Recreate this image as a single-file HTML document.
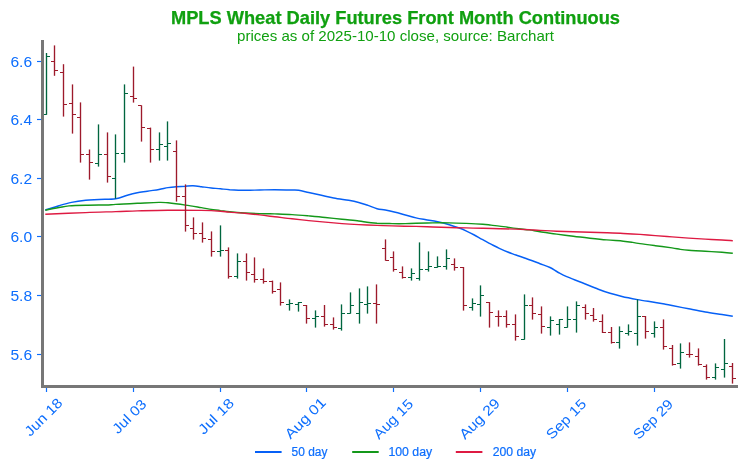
<!DOCTYPE html><html><head><meta charset="utf-8"><title>MPLS Wheat Daily Futures Front Month Continuous</title>
<style>html,body{margin:0;padding:0;background:#fff}svg{display:block}text{font-family:"Liberation Sans",sans-serif}</style></head><body>
<svg width="746" height="474" viewBox="0 0 746 474">
<rect width="746" height="474" fill="#fff"/>
<text x="395.5" y="23.8" text-anchor="middle" font-size="17.7" font-weight="bold" fill="#10a010" stroke="#10a010" stroke-width="0.25" textLength="449" lengthAdjust="spacingAndGlyphs">MPLS Wheat Daily Futures Front Month Continuous</text>
<text x="395.5" y="40.5" text-anchor="middle" font-size="14.3" fill="#10a010" textLength="317" lengthAdjust="spacingAndGlyphs">prices as of 2025-10-10 close, source: Barchart</text>
<path d="M45.3 210.0C47.6 209.3 54.6 207.0 59.0 205.7C63.4 204.4 67.0 203.3 71.5 202.4C76.0 201.5 81.1 200.8 85.7 200.3C90.3 199.8 94.0 199.8 99.0 199.5C104.0 199.2 111.0 199.4 115.7 198.7C120.4 198.0 123.7 196.3 127.3 195.3C130.9 194.3 134.0 193.5 137.3 192.8C140.6 192.1 143.7 191.8 147.3 191.2C150.9 190.6 155.6 190.1 159.0 189.5C162.4 188.9 165.1 188.1 168.0 187.6C170.9 187.1 173.4 186.9 176.3 186.7C179.2 186.5 182.7 186.3 185.5 186.2C188.3 186.0 190.4 185.7 193.0 185.8C195.6 185.9 198.2 186.3 201.3 186.7C204.4 187.1 208.1 187.7 211.3 188.0C214.5 188.3 217.4 188.5 220.5 188.8C223.6 189.1 225.7 189.4 229.7 189.7C233.7 189.9 239.7 190.2 244.7 190.3C249.7 190.4 254.7 190.1 259.7 190.0C264.7 189.9 269.3 189.7 274.7 189.7C280.1 189.7 288.0 189.9 292.0 190.0C296.0 190.1 295.9 189.9 298.7 190.3C301.5 190.7 305.1 191.7 308.7 192.5C312.3 193.3 316.1 194.1 320.3 195.0C324.5 195.9 329.0 197.1 333.7 198.0C338.4 198.9 344.5 199.6 348.7 200.3C352.9 201.1 355.6 201.7 358.7 202.5C361.8 203.3 363.9 204.0 367.0 205.0C370.1 206.0 373.9 207.9 377.0 208.7C380.1 209.5 382.2 209.4 385.3 210.0C388.4 210.6 392.0 211.4 395.3 212.2C398.6 213.0 401.9 214.1 405.3 215.0C408.8 215.9 412.6 217.1 416.0 217.9C419.4 218.7 422.4 219.1 426.0 219.7C429.6 220.3 433.8 220.9 437.7 221.7C441.6 222.5 445.7 223.6 449.3 224.7C452.9 225.8 456.5 227.0 459.3 228.0C462.1 229.0 463.5 229.6 466.0 230.8C468.5 232.0 471.5 233.5 474.3 235.0C477.1 236.5 479.9 238.2 482.7 239.7C485.5 241.2 488.2 242.8 491.0 244.2C493.8 245.6 496.5 247.0 499.3 248.3C502.1 249.6 504.9 250.9 507.7 252.0C510.5 253.1 512.4 253.7 516.0 255.0C519.6 256.3 525.3 258.2 529.3 259.7C533.3 261.1 536.5 262.4 540.0 263.7C543.5 265.0 547.0 266.0 550.0 267.5C553.0 269.0 555.5 271.0 558.3 272.5C561.1 274.0 562.8 275.0 566.7 276.7C570.6 278.4 576.4 280.4 581.7 282.5C587.0 284.6 593.6 287.4 598.3 289.2C603.0 291.0 606.0 292.1 610.0 293.3C614.0 294.5 617.4 295.4 622.0 296.5C626.6 297.6 632.0 298.6 637.5 299.6C643.0 300.6 650.7 301.7 655.3 302.5C659.9 303.3 662.5 303.7 665.3 304.2C668.1 304.7 668.1 304.7 672.0 305.5C675.9 306.3 683.2 307.7 688.7 308.8C694.2 309.9 699.8 311.1 705.3 312.0C710.8 312.9 717.4 313.8 722.0 314.5C726.6 315.2 731.0 315.9 732.8 316.2" fill="none" stroke="#0660f6" stroke-width="1.45" stroke-linejoin="round"/>
<path d="M45.3 210.3C47.6 209.8 55.0 208.2 59.0 207.5C63.0 206.8 64.5 206.3 69.0 205.9C73.5 205.5 79.6 205.4 85.7 205.3C91.8 205.1 100.7 205.1 105.7 205.0C110.7 204.8 110.4 204.7 115.7 204.4C121.0 204.2 130.1 203.7 137.3 203.3C144.5 203.0 153.9 202.5 159.0 202.4C164.1 202.3 163.6 202.4 168.0 202.8C172.4 203.3 179.9 204.3 185.5 205.1C191.1 205.8 197.0 206.9 201.3 207.6C205.6 208.3 208.1 208.9 211.3 209.4C214.5 209.9 217.4 210.1 220.5 210.6C223.6 211.0 225.7 211.4 229.7 211.8C233.7 212.2 239.7 212.7 244.7 213.0C249.7 213.3 254.7 213.5 259.7 213.6C264.7 213.8 269.3 213.8 274.7 213.9C280.1 214.1 286.3 214.3 292.0 214.6C297.7 214.9 303.1 215.4 308.7 215.9C314.2 216.4 319.8 216.9 325.3 217.5C330.9 218.1 336.4 218.7 342.0 219.3C347.6 219.9 354.5 220.5 358.7 221.0C362.9 221.5 363.9 221.9 367.0 222.3C370.1 222.7 372.8 222.9 377.0 223.2C381.2 223.4 387.3 223.5 392.0 223.6C396.7 223.7 401.3 223.7 405.3 223.6C409.3 223.5 411.4 223.4 416.0 223.3C420.6 223.2 427.1 223.0 432.7 222.9C438.2 222.8 443.8 222.8 449.3 222.9C454.9 223.0 460.4 223.2 466.0 223.4C471.6 223.6 478.5 223.9 482.7 224.2C486.9 224.5 488.2 224.8 491.0 225.1C493.8 225.4 496.5 225.8 499.3 226.1C502.1 226.5 504.9 226.8 507.7 227.2C510.5 227.6 512.4 228.0 516.0 228.4C519.6 228.9 525.3 229.4 529.3 229.9C533.3 230.5 535.4 231.1 540.0 231.8C544.6 232.5 551.2 233.3 556.7 234.1C562.2 234.8 567.8 235.6 573.3 236.3C578.8 237.0 584.4 237.6 590.0 238.2C595.6 238.8 601.2 239.4 606.7 239.9C612.2 240.4 619.1 240.8 623.3 241.2C627.5 241.6 628.9 241.8 631.7 242.2C634.5 242.7 636.1 243.0 640.0 243.6C643.9 244.2 650.0 245.0 655.3 245.7C660.6 246.4 667.8 247.3 672.0 247.9C676.2 248.5 677.5 249.0 680.3 249.4C683.1 249.8 684.5 250.0 688.7 250.3C692.9 250.6 699.8 250.9 705.3 251.3C710.8 251.6 717.4 252.0 722.0 252.3C726.6 252.6 731.0 253.1 732.8 253.3" fill="none" stroke="#14981a" stroke-width="1.45" stroke-linejoin="round"/>
<path d="M45.3 214.2C52.0 213.9 74.0 213.0 85.7 212.6C97.4 212.1 107.1 211.9 115.7 211.6C124.3 211.4 128.6 211.1 137.3 210.9C146.0 210.7 157.3 210.4 168.0 210.3C178.7 210.2 192.6 210.3 201.3 210.4C210.1 210.6 215.8 210.9 220.5 211.2C225.2 211.5 225.7 211.8 229.7 212.1C233.7 212.5 239.7 212.9 244.7 213.3C249.7 213.8 254.7 214.3 259.7 214.9C264.7 215.4 269.3 216.1 274.7 216.8C280.1 217.4 286.3 218.2 292.0 218.8C297.7 219.4 303.1 220.0 308.7 220.6C314.2 221.1 319.8 221.6 325.3 222.1C330.9 222.7 336.4 223.2 342.0 223.6C347.6 224.0 352.9 224.3 358.7 224.6C364.5 224.9 371.4 225.2 377.0 225.4C382.6 225.6 385.5 225.7 392.0 225.9C398.5 226.1 409.2 226.3 416.0 226.4C422.8 226.6 427.1 226.8 432.7 227.0C438.2 227.2 443.8 227.3 449.3 227.5C454.9 227.7 460.4 227.8 466.0 227.9C471.6 228.1 477.1 228.2 482.7 228.3C488.2 228.4 493.8 228.5 499.3 228.7C504.9 228.8 511.0 228.9 516.0 229.1C521.0 229.3 525.3 229.5 529.3 229.7C533.3 229.9 535.4 230.2 540.0 230.4C544.6 230.6 551.2 230.9 556.7 231.2C562.2 231.4 567.8 231.5 573.3 231.7C578.8 231.9 584.4 232.0 590.0 232.2C595.6 232.4 601.2 232.6 606.7 232.8C612.2 233.0 617.8 233.2 623.3 233.5C628.8 233.7 634.7 234.0 640.0 234.4C645.3 234.8 650.0 235.2 655.3 235.6C660.6 236.0 666.4 236.5 672.0 236.9C677.6 237.3 683.2 237.7 688.7 238.1C694.2 238.4 699.8 238.8 705.3 239.1C710.8 239.4 717.4 239.7 722.0 240.0C726.6 240.2 731.0 240.6 732.8 240.7" fill="none" stroke="#de1a42" stroke-width="1.45" stroke-linejoin="round"/>
<path d="M46.5 53.0V114.8" stroke="#00663f" stroke-width="1.35" fill="none"/><path d="M43.0 114.5H46.5M46.5 56.5H50.0" stroke="#00663f" stroke-width="1.15" fill="none"/>
<path d="M54.5 45.4V75.8" stroke="#9d1a2b" stroke-width="1.35" fill="none"/><path d="M51.0 61.5H54.5M54.5 70.5H58.0" stroke="#9d1a2b" stroke-width="1.15" fill="none"/>
<path d="M63.5 64.2V116.6" stroke="#9d1a2b" stroke-width="1.35" fill="none"/><path d="M60.0 72.5H63.5M63.5 104.5H67.0" stroke="#9d1a2b" stroke-width="1.15" fill="none"/>
<path d="M72.5 84.4V133.6" stroke="#9d1a2b" stroke-width="1.35" fill="none"/><path d="M69.0 103.5H72.5M72.5 114.5H76.0" stroke="#9d1a2b" stroke-width="1.15" fill="none"/>
<path d="M80.5 102.4V162.6" stroke="#9d1a2b" stroke-width="1.35" fill="none"/><path d="M77.0 117.5H80.5M80.5 154.5H84.0" stroke="#9d1a2b" stroke-width="1.15" fill="none"/>
<path d="M89.5 149.5V179.6" stroke="#9d1a2b" stroke-width="1.35" fill="none"/><path d="M86.0 154.5H89.5M89.5 162.5H93.0" stroke="#9d1a2b" stroke-width="1.15" fill="none"/>
<path d="M98.5 124.4V166.6" stroke="#00663f" stroke-width="1.35" fill="none"/><path d="M95.0 163.5H98.5M98.5 154.5H102.0" stroke="#00663f" stroke-width="1.15" fill="none"/>
<path d="M107.5 132.4V182.6" stroke="#9d1a2b" stroke-width="1.35" fill="none"/><path d="M104.0 154.5H107.5M107.5 176.5H111.0" stroke="#9d1a2b" stroke-width="1.15" fill="none"/>
<path d="M115.5 134.4V198.6" stroke="#00663f" stroke-width="1.35" fill="none"/><path d="M112.0 178.5H115.5M115.5 153.5H119.0" stroke="#00663f" stroke-width="1.15" fill="none"/>
<path d="M124.5 84.4V162.6" stroke="#00663f" stroke-width="1.35" fill="none"/><path d="M121.0 153.5H124.5M124.5 93.5H128.0" stroke="#00663f" stroke-width="1.15" fill="none"/>
<path d="M133.5 66.6V102.6" stroke="#9d1a2b" stroke-width="1.35" fill="none"/><path d="M130.0 96.5H133.5M133.5 98.5H137.0" stroke="#9d1a2b" stroke-width="1.15" fill="none"/>
<path d="M141.5 105.4V141.6" stroke="#9d1a2b" stroke-width="1.35" fill="none"/><path d="M138.0 105.5H141.5M141.5 127.5H145.0" stroke="#9d1a2b" stroke-width="1.15" fill="none"/>
<path d="M150.5 127.6V162.6" stroke="#9d1a2b" stroke-width="1.35" fill="none"/><path d="M147.0 128.5H150.5M150.5 149.5H154.0" stroke="#9d1a2b" stroke-width="1.15" fill="none"/>
<path d="M159.5 132.4V160.6" stroke="#00663f" stroke-width="1.35" fill="none"/><path d="M156.0 149.5H159.5M159.5 144.5H163.0" stroke="#00663f" stroke-width="1.15" fill="none"/>
<path d="M167.5 121.4V160.6" stroke="#00663f" stroke-width="1.35" fill="none"/><path d="M164.0 146.5H167.5M167.5 143.5H171.0" stroke="#00663f" stroke-width="1.15" fill="none"/>
<path d="M176.5 140.4V201.6" stroke="#9d1a2b" stroke-width="1.35" fill="none"/><path d="M173.0 151.5H176.5M176.5 196.5H180.0" stroke="#9d1a2b" stroke-width="1.15" fill="none"/>
<path d="M185.5 184.4V231.6" stroke="#9d1a2b" stroke-width="1.35" fill="none"/><path d="M182.0 196.5H185.5M185.5 225.5H189.0" stroke="#9d1a2b" stroke-width="1.15" fill="none"/>
<path d="M193.5 217.4V239.6" stroke="#9d1a2b" stroke-width="1.35" fill="none"/><path d="M190.0 228.5H193.5M193.5 233.5H197.0" stroke="#9d1a2b" stroke-width="1.15" fill="none"/>
<path d="M202.5 222.4V242.6" stroke="#9d1a2b" stroke-width="1.35" fill="none"/><path d="M199.0 233.5H202.5M202.5 238.5H206.0" stroke="#9d1a2b" stroke-width="1.15" fill="none"/>
<path d="M211.5 231.4V256.6" stroke="#9d1a2b" stroke-width="1.35" fill="none"/><path d="M208.0 239.5H211.5M211.5 251.5H215.0" stroke="#9d1a2b" stroke-width="1.15" fill="none"/>
<path d="M220.5 225.4V256.6" stroke="#00663f" stroke-width="1.35" fill="none"/><path d="M217.0 251.5H220.5M220.5 250.5H224.0" stroke="#00663f" stroke-width="1.15" fill="none"/>
<path d="M228.5 247.4V278.6" stroke="#9d1a2b" stroke-width="1.35" fill="none"/><path d="M225.0 250.5H228.5M228.5 276.5H232.0" stroke="#9d1a2b" stroke-width="1.15" fill="none"/>
<path d="M237.5 253.4V278.6" stroke="#00663f" stroke-width="1.35" fill="none"/><path d="M234.0 276.5H237.5M237.5 261.5H241.0" stroke="#00663f" stroke-width="1.15" fill="none"/>
<path d="M246.5 253.4V280.6" stroke="#9d1a2b" stroke-width="1.35" fill="none"/><path d="M243.0 261.5H246.5M246.5 272.5H250.0" stroke="#9d1a2b" stroke-width="1.15" fill="none"/>
<path d="M254.5 257.4V282.6" stroke="#9d1a2b" stroke-width="1.35" fill="none"/><path d="M251.0 274.5H254.5M254.5 279.5H258.0" stroke="#9d1a2b" stroke-width="1.15" fill="none"/>
<path d="M263.5 268.4V283.6" stroke="#9d1a2b" stroke-width="1.35" fill="none"/><path d="M260.0 279.5H263.5M263.5 281.5H267.0" stroke="#9d1a2b" stroke-width="1.15" fill="none"/>
<path d="M272.5 280.6V293.6" stroke="#9d1a2b" stroke-width="1.35" fill="none"/><path d="M269.0 281.5H272.5M272.5 291.5H276.0" stroke="#9d1a2b" stroke-width="1.15" fill="none"/>
<path d="M280.5 282.4V305.6" stroke="#9d1a2b" stroke-width="1.35" fill="none"/><path d="M277.0 289.5H280.5M280.5 302.5H284.0" stroke="#9d1a2b" stroke-width="1.15" fill="none"/>
<path d="M289.5 299.4V310.6" stroke="#00663f" stroke-width="1.35" fill="none"/><path d="M286.0 304.5H289.5M289.5 303.5H293.0" stroke="#00663f" stroke-width="1.15" fill="none"/>
<path d="M298.5 302.0V311.6" stroke="#00663f" stroke-width="1.35" fill="none"/><path d="M295.0 304.5H298.5M298.5 302.5H302.0" stroke="#00663f" stroke-width="1.15" fill="none"/>
<path d="M306.5 305.0V323.6" stroke="#9d1a2b" stroke-width="1.35" fill="none"/><path d="M303.0 305.5H306.5M306.5 318.5H310.0" stroke="#9d1a2b" stroke-width="1.15" fill="none"/>
<path d="M315.5 310.4V327.6" stroke="#00663f" stroke-width="1.35" fill="none"/><path d="M312.0 318.5H315.5M315.5 316.5H319.0" stroke="#00663f" stroke-width="1.15" fill="none"/>
<path d="M324.5 305.0V326.6" stroke="#9d1a2b" stroke-width="1.35" fill="none"/><path d="M321.0 316.5H324.5M324.5 324.5H328.0" stroke="#9d1a2b" stroke-width="1.15" fill="none"/>
<path d="M333.5 317.4V329.6" stroke="#9d1a2b" stroke-width="1.35" fill="none"/><path d="M330.0 324.5H333.5M333.5 327.5H337.0" stroke="#9d1a2b" stroke-width="1.15" fill="none"/>
<path d="M341.5 304.4V330.6" stroke="#00663f" stroke-width="1.35" fill="none"/><path d="M338.0 328.5H341.5M341.5 313.5H345.0" stroke="#00663f" stroke-width="1.15" fill="none"/>
<path d="M350.5 292.4V313.6" stroke="#00663f" stroke-width="1.35" fill="none"/><path d="M347.0 313.5H350.5M350.5 305.5H354.0" stroke="#00663f" stroke-width="1.15" fill="none"/>
<path d="M359.5 288.4V323.6" stroke="#00663f" stroke-width="1.35" fill="none"/><path d="M356.0 313.5H359.5M359.5 302.5H363.0" stroke="#00663f" stroke-width="1.15" fill="none"/>
<path d="M367.5 286.4V313.6" stroke="#00663f" stroke-width="1.35" fill="none"/><path d="M364.0 304.5H367.5M367.5 303.5H371.0" stroke="#00663f" stroke-width="1.15" fill="none"/>
<path d="M376.5 284.4V323.6" stroke="#9d1a2b" stroke-width="1.35" fill="none"/><path d="M373.0 303.5H376.5M376.5 304.5H380.0" stroke="#9d1a2b" stroke-width="1.15" fill="none"/>
<path d="M385.5 239.4V260.6" stroke="#9d1a2b" stroke-width="1.35" fill="none"/><path d="M382.0 248.5H385.5M385.5 260.5H389.0" stroke="#9d1a2b" stroke-width="1.15" fill="none"/>
<path d="M393.5 251.4V271.6" stroke="#9d1a2b" stroke-width="1.35" fill="none"/><path d="M390.0 257.5H393.5M393.5 269.5H397.0" stroke="#9d1a2b" stroke-width="1.15" fill="none"/>
<path d="M402.5 266.4V278.6" stroke="#9d1a2b" stroke-width="1.35" fill="none"/><path d="M399.0 272.5H402.5M402.5 277.5H406.0" stroke="#9d1a2b" stroke-width="1.15" fill="none"/>
<path d="M411.5 268.4V280.6" stroke="#00663f" stroke-width="1.35" fill="none"/><path d="M408.0 277.5H411.5M411.5 273.5H415.0" stroke="#00663f" stroke-width="1.15" fill="none"/>
<path d="M419.5 242.4V280.6" stroke="#00663f" stroke-width="1.35" fill="none"/><path d="M416.0 278.5H419.5M419.5 269.5H423.0" stroke="#00663f" stroke-width="1.15" fill="none"/>
<path d="M428.5 251.4V271.6" stroke="#00663f" stroke-width="1.35" fill="none"/><path d="M425.0 269.5H428.5M428.5 266.5H432.0" stroke="#00663f" stroke-width="1.15" fill="none"/>
<path d="M437.5 256.4V267.6" stroke="#00663f" stroke-width="1.35" fill="none"/><path d="M434.0 267.5H437.5M437.5 266.5H441.0" stroke="#00663f" stroke-width="1.15" fill="none"/>
<path d="M446.5 249.4V269.6" stroke="#00663f" stroke-width="1.35" fill="none"/><path d="M443.0 266.5H446.5M446.5 258.5H450.0" stroke="#00663f" stroke-width="1.15" fill="none"/>
<path d="M454.5 258.4V270.6" stroke="#9d1a2b" stroke-width="1.35" fill="none"/><path d="M451.0 264.5H454.5M454.5 267.5H458.0" stroke="#9d1a2b" stroke-width="1.15" fill="none"/>
<path d="M463.5 267.0V310.6" stroke="#9d1a2b" stroke-width="1.35" fill="none"/><path d="M460.0 267.5H463.5M463.5 305.5H467.0" stroke="#9d1a2b" stroke-width="1.15" fill="none"/>
<path d="M472.5 298.4V310.6" stroke="#00663f" stroke-width="1.35" fill="none"/><path d="M469.0 307.5H472.5M472.5 303.5H476.0" stroke="#00663f" stroke-width="1.15" fill="none"/>
<path d="M480.5 285.4V316.6" stroke="#00663f" stroke-width="1.35" fill="none"/><path d="M477.0 304.5H480.5M480.5 295.5H484.0" stroke="#00663f" stroke-width="1.15" fill="none"/>
<path d="M489.5 302.0V327.6" stroke="#9d1a2b" stroke-width="1.35" fill="none"/><path d="M486.0 302.5H489.5M489.5 312.5H493.0" stroke="#9d1a2b" stroke-width="1.15" fill="none"/>
<path d="M498.5 310.4V326.6" stroke="#9d1a2b" stroke-width="1.35" fill="none"/><path d="M495.0 316.5H498.5M498.5 316.5H502.0" stroke="#9d1a2b" stroke-width="1.15" fill="none"/>
<path d="M506.5 310.4V327.6" stroke="#9d1a2b" stroke-width="1.35" fill="none"/><path d="M503.0 316.5H506.5M506.5 324.5H510.0" stroke="#9d1a2b" stroke-width="1.15" fill="none"/>
<path d="M515.5 314.4V340.6" stroke="#9d1a2b" stroke-width="1.35" fill="none"/><path d="M512.0 324.5H515.5M515.5 336.5H519.0" stroke="#9d1a2b" stroke-width="1.15" fill="none"/>
<path d="M524.5 294.4V339.6" stroke="#00663f" stroke-width="1.35" fill="none"/><path d="M521.0 339.5H524.5M524.5 305.5H528.0" stroke="#00663f" stroke-width="1.15" fill="none"/>
<path d="M532.5 297.4V319.6" stroke="#9d1a2b" stroke-width="1.35" fill="none"/><path d="M529.0 305.5H532.5M532.5 313.5H536.0" stroke="#9d1a2b" stroke-width="1.15" fill="none"/>
<path d="M541.5 306.4V333.6" stroke="#9d1a2b" stroke-width="1.35" fill="none"/><path d="M538.0 314.5H541.5M541.5 326.5H545.0" stroke="#9d1a2b" stroke-width="1.15" fill="none"/>
<path d="M550.5 316.4V335.6" stroke="#00663f" stroke-width="1.35" fill="none"/><path d="M547.0 327.5H550.5M550.5 320.5H554.0" stroke="#00663f" stroke-width="1.15" fill="none"/>
<path d="M559.5 319.0V334.6" stroke="#00663f" stroke-width="1.35" fill="none"/><path d="M556.0 324.5H559.5M559.5 319.5H563.0" stroke="#00663f" stroke-width="1.15" fill="none"/>
<path d="M567.5 306.4V327.6" stroke="#00663f" stroke-width="1.35" fill="none"/><path d="M564.0 327.5H567.5M567.5 319.5H571.0" stroke="#00663f" stroke-width="1.15" fill="none"/>
<path d="M576.5 301.4V332.6" stroke="#00663f" stroke-width="1.35" fill="none"/><path d="M573.0 319.5H576.5M576.5 305.5H580.0" stroke="#00663f" stroke-width="1.15" fill="none"/>
<path d="M585.5 304.4V319.6" stroke="#9d1a2b" stroke-width="1.35" fill="none"/><path d="M582.0 307.5H585.5M585.5 313.5H589.0" stroke="#9d1a2b" stroke-width="1.15" fill="none"/>
<path d="M593.5 308.0V321.6" stroke="#9d1a2b" stroke-width="1.35" fill="none"/><path d="M590.0 315.5H593.5M593.5 319.5H597.0" stroke="#9d1a2b" stroke-width="1.15" fill="none"/>
<path d="M602.5 314.4V333.0" stroke="#9d1a2b" stroke-width="1.35" fill="none"/><path d="M599.0 321.5H602.5M602.5 332.5H606.0" stroke="#9d1a2b" stroke-width="1.15" fill="none"/>
<path d="M611.5 327.0V343.6" stroke="#9d1a2b" stroke-width="1.35" fill="none"/><path d="M608.0 332.5H611.5M611.5 342.5H615.0" stroke="#9d1a2b" stroke-width="1.15" fill="none"/>
<path d="M619.5 326.4V348.6" stroke="#00663f" stroke-width="1.35" fill="none"/><path d="M616.0 342.5H619.5M619.5 331.5H623.0" stroke="#00663f" stroke-width="1.15" fill="none"/>
<path d="M628.5 324.4V335.6" stroke="#00663f" stroke-width="1.35" fill="none"/><path d="M625.0 333.5H628.5M628.5 331.5H632.0" stroke="#00663f" stroke-width="1.15" fill="none"/>
<path d="M637.5 299.4V345.6" stroke="#00663f" stroke-width="1.35" fill="none"/><path d="M634.0 333.5H637.5M637.5 316.5H641.0" stroke="#00663f" stroke-width="1.15" fill="none"/>
<path d="M645.5 316.0V338.6" stroke="#9d1a2b" stroke-width="1.35" fill="none"/><path d="M642.0 316.5H645.5M645.5 331.5H649.0" stroke="#9d1a2b" stroke-width="1.15" fill="none"/>
<path d="M654.5 321.4V337.6" stroke="#00663f" stroke-width="1.35" fill="none"/><path d="M651.0 333.5H654.5M654.5 327.5H658.0" stroke="#00663f" stroke-width="1.15" fill="none"/>
<path d="M663.5 319.4V349.6" stroke="#9d1a2b" stroke-width="1.35" fill="none"/><path d="M660.0 327.5H663.5M663.5 346.5H667.0" stroke="#9d1a2b" stroke-width="1.15" fill="none"/>
<path d="M672.5 345.0V365.6" stroke="#9d1a2b" stroke-width="1.35" fill="none"/><path d="M669.0 348.5H672.5M672.5 364.5H676.0" stroke="#9d1a2b" stroke-width="1.15" fill="none"/>
<path d="M680.5 343.4V368.6" stroke="#00663f" stroke-width="1.35" fill="none"/><path d="M677.0 363.5H680.5M680.5 352.5H684.0" stroke="#00663f" stroke-width="1.15" fill="none"/>
<path d="M689.5 342.4V357.6" stroke="#9d1a2b" stroke-width="1.35" fill="none"/><path d="M686.0 354.5H689.5M689.5 354.5H693.0" stroke="#9d1a2b" stroke-width="1.15" fill="none"/>
<path d="M698.5 348.4V365.6" stroke="#9d1a2b" stroke-width="1.35" fill="none"/><path d="M695.0 356.5H698.5M698.5 364.5H702.0" stroke="#9d1a2b" stroke-width="1.15" fill="none"/>
<path d="M706.5 364.4V379.6" stroke="#9d1a2b" stroke-width="1.35" fill="none"/><path d="M703.0 366.5H706.5M706.5 377.5H710.0" stroke="#9d1a2b" stroke-width="1.15" fill="none"/>
<path d="M715.5 363.4V379.6" stroke="#00663f" stroke-width="1.35" fill="none"/><path d="M712.0 377.5H715.5M715.5 367.5H719.0" stroke="#00663f" stroke-width="1.15" fill="none"/>
<path d="M724.5 339.0V377.6" stroke="#00663f" stroke-width="1.35" fill="none"/><path d="M721.0 369.5H724.5M724.5 363.5H728.0" stroke="#00663f" stroke-width="1.15" fill="none"/>
<path d="M732.5 363.0V383.6" stroke="#9d1a2b" stroke-width="1.35" fill="none"/><path d="M729.0 366.5H732.5M732.5 378.5H736.0" stroke="#9d1a2b" stroke-width="1.15" fill="none"/>
<rect x="41" y="40" width="3" height="348" fill="#777777"/>
<rect x="41" y="385" width="697" height="3" fill="#777777"/>
<line x1="37" x2="41" y1="61.5" y2="61.5" stroke="#0d6efd" stroke-width="1.15"/>
<text x="32.1" y="67.1" text-anchor="end" font-size="14" fill="#0d6efd" textLength="21.7" lengthAdjust="spacingAndGlyphs">6.6</text>
<line x1="37" x2="41" y1="119.5" y2="119.5" stroke="#0d6efd" stroke-width="1.15"/>
<text x="32.1" y="125.1" text-anchor="end" font-size="14" fill="#0d6efd" textLength="21.7" lengthAdjust="spacingAndGlyphs">6.4</text>
<line x1="37" x2="41" y1="178.5" y2="178.5" stroke="#0d6efd" stroke-width="1.15"/>
<text x="32.1" y="184.1" text-anchor="end" font-size="14" fill="#0d6efd" textLength="21.7" lengthAdjust="spacingAndGlyphs">6.2</text>
<line x1="37" x2="41" y1="236.5" y2="236.5" stroke="#0d6efd" stroke-width="1.15"/>
<text x="32.1" y="242.1" text-anchor="end" font-size="14" fill="#0d6efd" textLength="21.7" lengthAdjust="spacingAndGlyphs">6.0</text>
<line x1="37" x2="41" y1="295.5" y2="295.5" stroke="#0d6efd" stroke-width="1.15"/>
<text x="32.1" y="301.1" text-anchor="end" font-size="14" fill="#0d6efd" textLength="21.7" lengthAdjust="spacingAndGlyphs">5.8</text>
<line x1="37" x2="41" y1="354.5" y2="354.5" stroke="#0d6efd" stroke-width="1.15"/>
<text x="32.1" y="360.1" text-anchor="end" font-size="14" fill="#0d6efd" textLength="21.7" lengthAdjust="spacingAndGlyphs">5.6</text>
<line x1="46.5" x2="46.5" y1="388" y2="392" stroke="#0d6efd" stroke-width="1.2"/>
<text transform="translate(63.48,403.80) rotate(-45)" text-anchor="end" font-size="14" fill="#0d6efd" textLength="46.93" lengthAdjust="spacingAndGlyphs">Jun 18</text>
<line x1="133.5" x2="133.5" y1="388" y2="392" stroke="#0d6efd" stroke-width="1.2"/>
<text transform="translate(147.44,405.08) rotate(-45)" text-anchor="end" font-size="14" fill="#0d6efd" textLength="41.58" lengthAdjust="spacingAndGlyphs">Jul 03</text>
<line x1="220.5" x2="220.5" y1="388" y2="392" stroke="#0d6efd" stroke-width="1.2"/>
<text transform="translate(234.88,404.12) rotate(-45)" text-anchor="end" font-size="14" fill="#0d6efd" textLength="43.96" lengthAdjust="spacingAndGlyphs">Jul 18</text>
<line x1="306.5" x2="306.5" y1="388" y2="392" stroke="#0d6efd" stroke-width="1.2"/>
<text transform="translate(326.84,403.48) rotate(-45)" text-anchor="end" font-size="14" fill="#0d6efd" textLength="51.40" lengthAdjust="spacingAndGlyphs">Aug 01</text>
<line x1="393.5" x2="393.5" y1="388" y2="392" stroke="#0d6efd" stroke-width="1.2"/>
<text transform="translate(414.16,404.92) rotate(-45)" text-anchor="end" font-size="14" fill="#0d6efd" textLength="49.62" lengthAdjust="spacingAndGlyphs">Aug 15</text>
<line x1="480.5" x2="480.5" y1="388" y2="392" stroke="#0d6efd" stroke-width="1.2"/>
<text transform="translate(500.68,404.28) rotate(-45)" text-anchor="end" font-size="14" fill="#0d6efd" textLength="50.41" lengthAdjust="spacingAndGlyphs">Aug 29</text>
<line x1="567.5" x2="567.5" y1="388" y2="392" stroke="#0d6efd" stroke-width="1.2"/>
<text transform="translate(587.20,404.92) rotate(-45)" text-anchor="end" font-size="14" fill="#0d6efd" textLength="50.01" lengthAdjust="spacingAndGlyphs">Sep 15</text>
<line x1="654.5" x2="654.5" y1="388" y2="392" stroke="#0d6efd" stroke-width="1.2"/>
<text transform="translate(674.04,405.08) rotate(-45)" text-anchor="end" font-size="14" fill="#0d6efd" textLength="49.81" lengthAdjust="spacingAndGlyphs">Sep 29</text>
<rect x="255" y="451" width="26.6" height="2" fill="#0660f6"/>
<text x="291.6" y="456" font-size="12" fill="#0d6efd" stroke="#0d6efd" stroke-width="0.2" textLength="35.8" lengthAdjust="spacingAndGlyphs">50 day</text>
<rect x="352.2" y="451" width="26.5" height="2" fill="#14981a"/>
<text x="388.4" y="456" font-size="12" fill="#0d6efd" stroke="#0d6efd" stroke-width="0.2" textLength="43.8" lengthAdjust="spacingAndGlyphs">100 day</text>
<rect x="455.8" y="451" width="26.6" height="2" fill="#de1a42"/>
<text x="492.7" y="456" font-size="12" fill="#0d6efd" stroke="#0d6efd" stroke-width="0.2" textLength="43.4" lengthAdjust="spacingAndGlyphs">200 day</text>
</svg></body></html>
